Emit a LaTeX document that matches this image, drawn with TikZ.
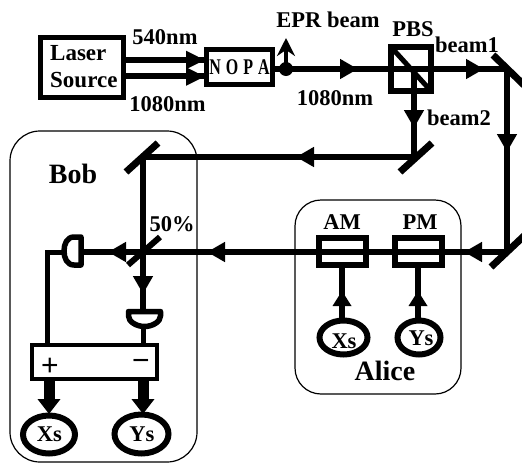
\documentclass[tikz,border=0pt]{standalone}
\usepackage{fontspec}
\setmainfont{Liberation Serif}
\newfontfamily\signfont{Liberation Sans}
\usetikzlibrary{arrows.meta,shapes.geometric}
\tikzset{
  beam/.style={line width=6pt},
  wire/.style={line width=5pt},
  head/.style={line width=6pt,-{Triangle[length=18pt,width=19pt]}},
  mirror/.style={line width=7pt},
  region/.style={draw,line width=1.2pt,rounded corners=#1},
  box/.style={draw,line width=#1,inner sep=0pt,outer sep=0pt},
  sig/.style={draw,ellipse,line width=6pt,inner sep=0pt,outer sep=0pt},
  lab/.style={font=\bfseries\fontsize{22.5}{24}\selectfont,inner sep=0pt,anchor=base},
  biglab/.style={font=\bfseries\fontsize{28}{30}\selectfont,inner sep=0pt,anchor=base},
  det/.style={line width=5.5pt,line join=round},
}
\begin{document}
\begin{tikzpicture}[x=1pt,y=-1pt]
\useasboundingbox (0,0) rectangle (522,464);
% regions
\draw[region=30pt] (10,131) rectangle (197,462);
\draw[region=26pt] (295,200) rectangle (461,394);
% boxes
\node[box=5pt,minimum width=83pt,minimum height=60pt] (laser) at (81.5,67) {};
\node[lab,anchor=west,align=left,font=\bfseries\fontsize{23}{27}\selectfont] (lasertext) at (50,67) {Laser\\Source};
\node[box=5pt,minimum width=66pt,minimum height=35pt] (nopa) at (239,66.5) {};
\node[inner sep=0pt,font=\bfseries\fontsize{16}{18}\selectfont] (nopatext) at (239.5,67) {\scalebox{1}[1.4]{N\hspace{5pt}O\hspace{5pt}P\hspace{5pt}A}};
\node[box=5.5pt,minimum width=40pt,minimum height=44pt] (pbs) at (411,69) {};
\node[box=6pt,minimum width=47pt,minimum height=27pt] (am) at (342,251) {};
\node[box=6pt,minimum width=47pt,minimum height=27pt] (pm) at (418,251) {};
\node[box=4.5pt,minimum width=125pt,minimum height=34pt,fill=white] (sub) at (94.5,362) {};
% named points
\coordinate (la) at (123,59.5);  \coordinate (na) at (204,59.5);
\coordinate (lb) at (123,76);  \coordinate (nb) at (204,76);
\coordinate (dot) at (286,69);
\coordinate (m1) at (507,69);
\coordinate (m2) at (507,252);
\coordinate (m3) at (414,157);
\coordinate (m4) at (143,157);
\coordinate (bs) at (143,252);
\coordinate (pbsc) at (414,69);
% beams
\draw[beam] (la) -- (na);
\draw[beam] (lb) -- (nb);
\draw[beam] (nopa.east |- dot) -- (m1);
\draw[beam] (pbsc) -- (m3);
\draw[beam] (m3) -- (m4);
\draw[beam] (m4) -- (bs);
\draw[beam] (m1) -- (m2);
\draw[beam] (m2) -- (83,252);
\draw[beam] (bs) -- (143,311);
% arrowheads on beams
\draw[line width=5pt,-{Triangle[length=19pt,width=17pt]}] (180,60) -- (205,60);
\draw[line width=5pt,-{Triangle[length=19pt,width=17pt]}] (180,76.5) -- (205,76.5);
\draw[head] (335,69) -- (358,69);
\draw[head] (460,69) -- (484,69);
\draw[head] (414,105) -- (414,128);
\draw[head] (325,157) -- (296,157);
\draw[head] (507,125) -- (507,152);
\draw[head] (490,252) -- (464,252);
\draw[head] (235,252) -- (207,252);
\draw[head] (135,252) -- (108,252);
\draw[head] (143,270) -- (143,294);
% mirrors and splitter
\draw[mirror] (493,55) -- (525,86);
\draw[mirror] (400,172) -- (432,143);
\draw[mirror] (126,172) -- (158,143);
\draw[mirror] (491,267) -- (525,235);
\draw[line width=6pt] (128,265) -- (160,237);
\draw[line width=5pt] (pbs.north west) -- (pbs.south east);
% EPR dot and arrow
\fill (dot) circle (7pt);
\draw[line width=4pt,-{Stealth[length=18pt,width=18pt,inset=6pt]}] (dot) -- (286,38);
% detectors
\draw[det] (81,237) -- (74,237) .. controls (67,237) and (64,244) .. (64,251) .. controls (64,258) and (67,265) .. (74,265) -- (81,265) -- cycle;
\draw[det] (128.5,311.5) -- (160.5,311.5) -- (160.5,316) .. controls (160.5,322) and (152,326.5) .. (144.5,326.5) .. controls (137,326.5) and (128.5,322) .. (128.5,316) -- cycle;
% wires
\draw[wire] (64,252) -- (47,252) -- (47,345);
\draw[wire] (143,328) -- (143,345);
% signal ellipses
\node[sig,minimum width=52pt,minimum height=38pt] (bx) at (49,434.5) {};
\node[sig,minimum width=54pt,minimum height=39pt] (by) at (141.5,434) {};
\node[sig,minimum width=48pt,minimum height=34pt] (ax) at (343.5,337.5) {};
\node[sig,minimum width=43pt,minimum height=34pt] (ay) at (419,337.5) {};
% big arrows
\draw[line width=11pt,-{Triangle[length=15pt,width=22pt]}] (49,381) -- (49,414);
\draw[line width=11pt,-{Triangle[length=15pt,width=22pt]}] (143,381) -- (143,414);
% modulator stems
\draw[line width=5.5pt] (am.south -| 342,0) -- (342,320);
\draw[line width=5.5pt] (pm.south -| 418,0) -- (418,320);
\fill (332.5,306) -- (342,291) -- (351.5,306) -- cycle;
\fill (408.5,306) -- (418,291) -- (427.5,306) -- cycle;
% labels
\node[lab] (l540) at (165,44) {540nm};
\node[lab] (l1080a) at (167.5,111) {1080nm};
\node[lab] (l1080b) at (335,105) {1080nm};
\node[lab] (lepr) at (328,27) {EPR beam};
\node[lab] (lpbs) at (413,36) {PBS};
\node[lab] (lb1) at (467,52) {beam1};
\node[lab] (lb2) at (459,125) {beam2};
\node[lab] (lam) at (342,229) {AM};
\node[lab] (lpm) at (420,229) {PM};
\node[lab] (l50) at (172,231) {50\%};
\node[biglab] (lbob) at (73,183) {Bob};
\node[biglab] (lalice) at (385,380) {Alice};
\node[lab] (tbx) at (49.5,441) {Xs};
\node[lab] (tby) at (142,441) {Ys};
\node[lab] (tax) at (344,348) {Xs};
\node[lab] (tay) at (421,345) {Ys};
\node[inner sep=0pt,font=\signfont\fontsize{30}{32}\selectfont] (plus) at (50,367) {+};
\node[inner sep=0pt,font=\signfont\fontsize{30}{32}\selectfont] (minus) at (141,365) {−};
\end{tikzpicture}
\end{document}
